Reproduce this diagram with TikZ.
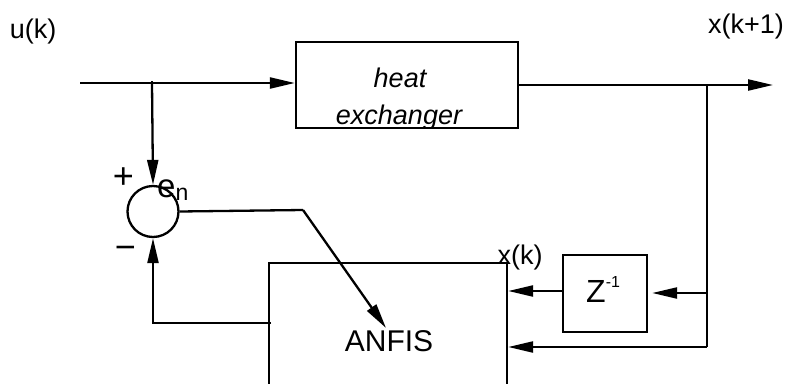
\documentclass[tikz,border=0pt]{standalone}
\usepackage{fontspec}
\setmainfont{Liberation Sans}
\usetikzlibrary{arrows.meta}
\tikzset{
  wire/.style={line width=2.3pt},
  arr/.style={wire,-{Triangle[length=25pt,width=11pt]}},
  blockbox/.style={draw,line width=2.3pt,rectangle,inner sep=0pt},
  lbl/.style={inner sep=0pt,font=\fontsize{27}{27}\selectfont},
}
\begin{document}
\begin{tikzpicture}[x=1pt,y=-1pt]
\useasboundingbox (0,0) rectangle (789,383);
% blocks
\node[blockbox,minimum width=222pt,minimum height=86pt] (hx) at (407,85) {};
\begin{scope}
\clip (297,43) rectangle (517,126);
\node[inner sep=0pt,anchor=base,font=\fontsize{27}{27}\selectfont\itshape] (heat) at (400,87) {heat};
\node[inner sep=0pt,anchor=base,font=\fontsize{27}{27}\selectfont\itshape] (exch) at (399,124) {exchanger};
\end{scope}
\node[blockbox,minimum width=84pt,minimum height=77pt] (z) at (605,293.5) {};
\node[inner sep=0pt,anchor=base west,font=\fontsize{32}{32}\selectfont] (zt) at (586,302) {Z\raisebox{15pt}{\fontsize{16}{16}\selectfont -1}};
\node[blockbox,minimum width=238pt,minimum height=240pt] (anfis) at (388,383) {};
\node[inner sep=0pt,font=\fontsize{30}{30}\selectfont] (anfist) at (389,341) {ANFIS};
\node[circle,draw,line width=2.3pt,minimum size=51pt,inner sep=0pt] (sum) at (153,211.5) {};
% labels
\node[lbl] (uk) at (33,32) {u(k)};
\node[lbl] (xk1) at (746,26.5) {x(k+1)};
\node[lbl] (xk) at (520,257.5) {x(k)};
\node[inner sep=0pt,font=\fontsize{36}{36}\selectfont] (plus) at (123.5,178) {+};
\node[inner sep=0pt,font=\fontsize{36}{36}\selectfont] (minus) at (125.5,253) {−};
\node[inner sep=0pt,anchor=base west,font=\fontsize{33}{33}\selectfont] (en) at (157,197) {e\raisebox{-3pt}{\fontsize{23}{23}\selectfont n}};
% coordinates
\coordinate (in) at (80,83);
\coordinate (b1) at (152,83);
\coordinate (out) at (773,85);
\coordinate (b2) at (707,85);
\coordinate (b4) at (707,293);
\coordinate (b3) at (707,347);
\coordinate (ek) at (303,210);
\coordinate (etip) at (386,328);
\coordinate (fb) at (271,323);
% connectors
\draw[arr] (in) -- (in -| hx.west);
\draw[wire] (b1) -- ([yshift=2pt]b1);
\draw[arr] (b1) -- (sum.north);
\draw[arr] (hx.east |- out) -- (out);
\draw[wire] (b2) -- (b3);
\draw[arr,shorten >=4pt] (b4) -- (z.east |- b4);
\draw[arr] ([yshift=2.5pt]z.west) -- ([yshift=2.5pt]z.west -| anfis.east);
\draw[arr] (b3) -- (b3 -| anfis.east);
\draw[wire] (sum.east) -- (ek);
\draw[arr] (ek) -- (etip);
\draw[arr] (fb) -| (sum.south);
\end{tikzpicture}
\end{document}
